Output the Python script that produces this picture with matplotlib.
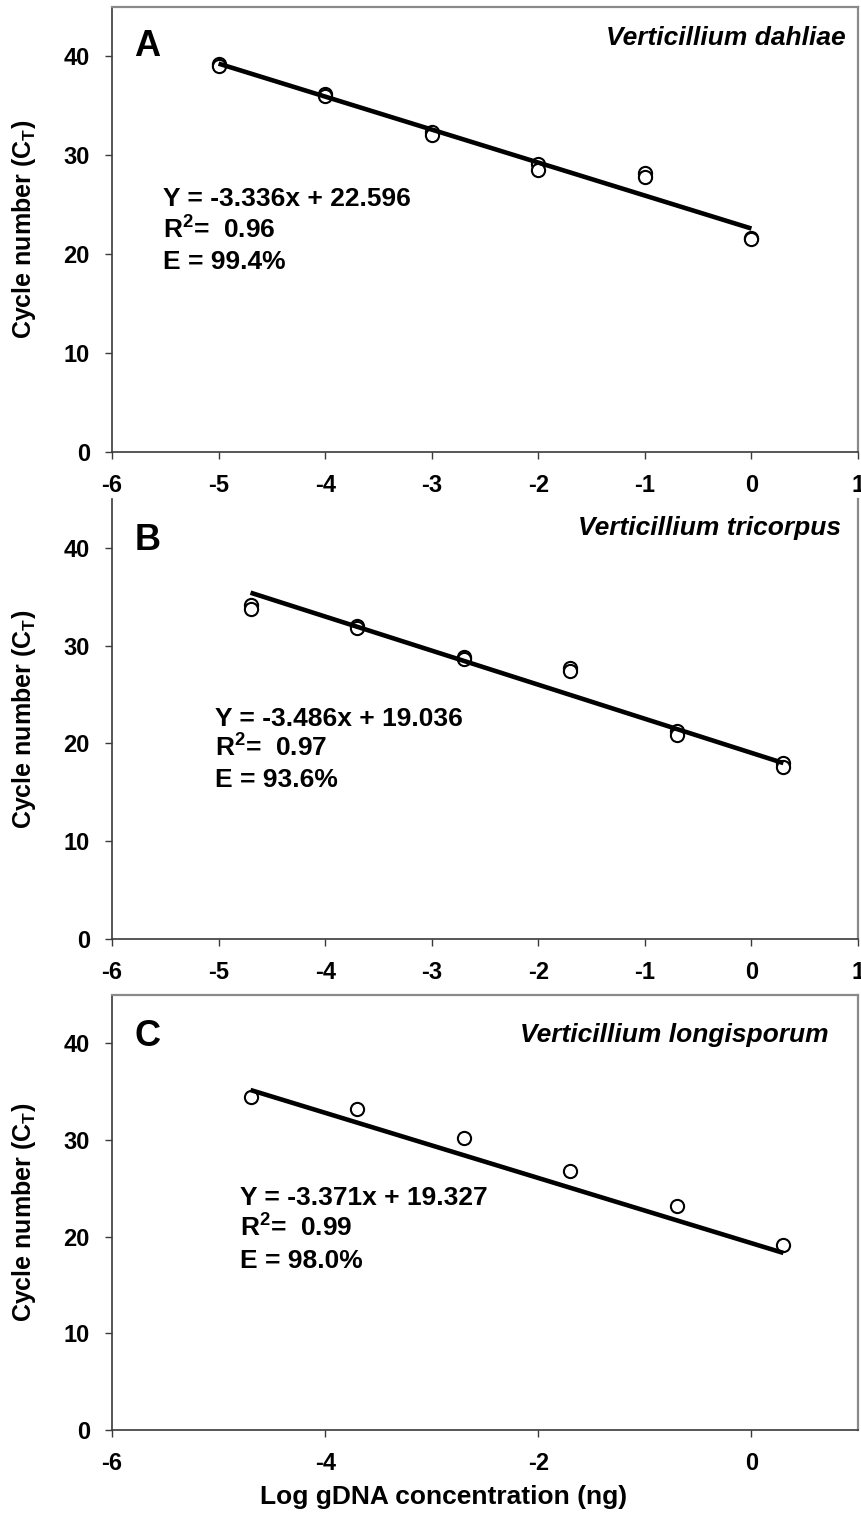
import matplotlib
matplotlib.use("Agg")
import matplotlib.pyplot as plt
import numpy as np

plt.rcParams['font.family'] = ['Liberation Sans', 'DejaVu Sans']
plt.rcParams['font.weight'] = 'bold'
plt.rcParams['axes.unicode_minus'] = False
plt.rcParams['mathtext.fontset'] = 'custom'
plt.rcParams['mathtext.rm'] = 'Liberation Sans:bold'
plt.rcParams['mathtext.bf'] = 'Liberation Sans:bold'
plt.rcParams['mathtext.it'] = 'Liberation Sans:bold:italic'

# ---- data: log gDNA (ng) vs threshold cycle, replicate wells ----
dahliae_x = [-5, -5, -4, -4, -3, -3, -2, -2, -1, -1, 0, 0]
dahliae_ct = [39.2, 39.0, 36.2, 36.0, 32.4, 32.1, 29.1, 28.5, 28.2, 27.8, 21.6, 21.5]

tricorpus_x = [-4.7, -4.7, -3.7, -3.7, -2.7, -2.7, -1.7, -1.7, -0.7, -0.7, 0.3, 0.3]
tricorpus_ct = [34.2, 33.8, 32.0, 31.8, 28.8, 28.6, 27.7, 27.4, 21.3, 20.9, 18.0, 17.6]

longisporum_x = [-4.7, -3.7, -2.7, -1.7, -0.7, 0.3]
longisporum_ct = [34.5, 33.2, 30.2, 26.8, 23.2, 19.1]

# standard-curve fits (slope, intercept), R^2 and efficiency
fit_slope = [-3.336, -3.486, -3.371]
fit_intercept = [22.596, 19.036, 19.327]
fit_r2 = ["0.96", "0.97", "0.99"]
fit_eff = ["99.4%", "93.6%", "98.0%"]

species = ["Verticillium dahliae", "Verticillium tricorpus", "Verticillium longisporum"]
panel_letters = ["A", "B", "C"]

xs = [dahliae_x, tricorpus_x, longisporum_x]
ys = [dahliae_ct, tricorpus_ct, longisporum_ct]

W, H = 862, 1521
fig = plt.figure(figsize=(W / 100, H / 100), dpi=100)

# panel boxes in pixels: (left, top, right, bottom)
boxes = [(112, 7, 858, 452), (112, 499, 858, 939), (112, 995, 858, 1430)]

# text placement (data coords)
letter_pos = [(-5.67, 41.0), (-5.67, 40.8), (-5.67, 40.7)]
species_pos = [(0.88, 41.9), (0.84, 42.0), (0.72, 40.9)]
eq_pos = [(-5.52, [25.6, 22.4, 19.2]), (-5.03, [22.5, 19.5, 16.3]), (-4.80, [24.0, 20.9, 17.5])]

dark = '#3a3a3a'
light = '#8a8a8a'

axes = []
for i, (l, t, r, b) in enumerate(boxes):
    ax = fig.add_axes([l / W, 1 - b / H, (r - l) / W, (b - t) / H])
    axes.append(ax)
    ax.set_xlim(-6, 1)
    ax.set_ylim(0, 45)
    ax.set_yticks([0, 10, 20, 30, 40])
    if i < 2:
        ax.set_xticks(np.arange(-6, 2, 1))
    else:
        ax.set_xticks(np.arange(-6, 1, 2))
    ax.tick_params(direction='out', length=5, width=1.0, color=dark,
                   labelsize=17, pad=11)
    for lab in ax.get_xticklabels() + ax.get_yticklabels():
        lab.set_fontweight('bold')
    ax.spines['left'].set_color(dark)
    ax.spines['bottom'].set_color(dark)
    ax.spines['left'].set_linewidth(1.2)
    ax.spines['bottom'].set_linewidth(1.2)
    ax.spines['right'].set_color(light)
    ax.spines['top'].set_color(light)
    ax.spines['right'].set_linewidth(1.6)
    ax.spines['top'].set_linewidth(1.6)
    if i == 1:
        ax.spines['top'].set_visible(False)

    # replicate points
    ax.plot(xs[i], ys[i], linestyle='none', marker='o', ms=9.5,
            mfc='white', mec='black', mew=1.5, zorder=3)
    # fitted standard curve
    x0, x1 = min(xs[i]), max(xs[i])
    lx = np.array([x0, x1])
    ax.plot(lx, fit_slope[i] * lx + fit_intercept[i], color='black',
            lw=3.3, solid_capstyle='butt', zorder=4)

    ax.text(*letter_pos[i], panel_letters[i], fontsize=26, fontweight='bold',
            ha='center', va='center')
    ax.text(*species_pos[i], species[i], fontsize=19, fontweight='bold',
            style='italic', ha='right', va='center')

    ex, ey = eq_pos[i]
    sign = '-' if fit_slope[i] < 0 else ''
    ax.text(ex, ey[0], f"Y = {sign}{abs(fit_slope[i]):.3f}x + {fit_intercept[i]:.3f}",
            fontsize=19, fontweight='bold', ha='left', va='center')
    ax.text(ex, ey[1], r"R$^{2}$=  " + fit_r2[i],
            fontsize=19, fontweight='bold', ha='left', va='center')
    ax.text(ex, ey[2], "E = " + fit_eff[i],
            fontsize=19, fontweight='bold', ha='left', va='center')

    ax.set_ylabel(r"Cycle number (C$_{\mathrm{T}}$)", fontsize=18, fontweight='bold')
    ax.yaxis.label.set_va('center')
    ax.yaxis.set_label_coords(-0.118, 0.5)

fig.text(444 / W, 1 - 1497 / H, "Log gDNA concentration (ng)", fontsize=19,
         fontweight='bold', ha='center', va='center')

fig.savefig("out.png", dpi=100)
